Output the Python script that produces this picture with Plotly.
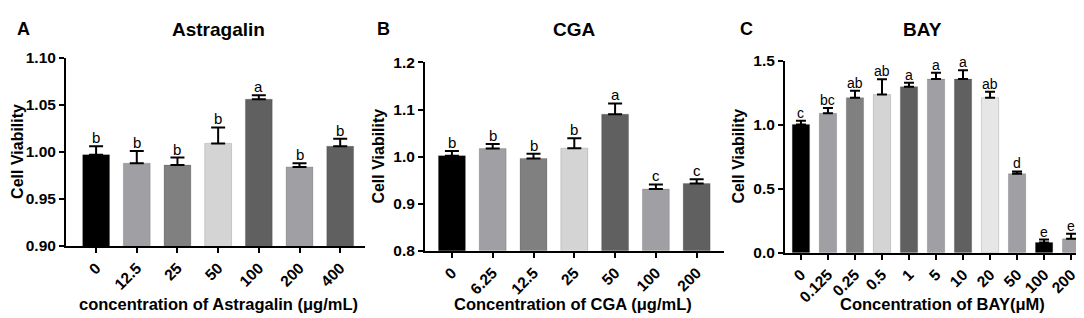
import plotly.graph_objects as go

W, H = 1084, 318

# ---- Data ----
a_cats = ["0", "12.5", "25", "50", "100", "200", "400"]
a_vals = [0.997, 0.988, 0.986, 1.009, 1.056, 0.984, 1.006]
a_errs = [0.009, 0.013, 0.008, 0.017, 0.004, 0.004, 0.008]
a_sig = ["b", "b", "b", "b", "a", "b", "b"]

b_cats = ["0", "6.25", "12.5", "25", "50", "100", "200"]
b_vals = [1.002, 1.017, 0.996, 1.018, 1.090, 0.931, 0.943]
b_errs = [0.010, 0.010, 0.010, 0.021, 0.023, 0.010, 0.009]
b_sig = ["b", "b", "b", "b", "a", "c", "c"]

c_cats = ["0", "0.125", "0.25", "0.5", "1", "5", "10", "20", "50", "100", "200"]
c_vals = [1.000, 1.089, 1.210, 1.234, 1.296, 1.355, 1.355, 1.210, 0.616, 0.080, 0.108]
c_errs = [0.030, 0.040, 0.054, 0.120, 0.030, 0.050, 0.070, 0.046, 0.018, 0.022, 0.040]
c_sig = ["c", "bc", "ab", "ab", "a", "a", "a", "ab", "d", "e", "e"]

a_colors = ["#000000", "#a0a0a4", "#808080", "#d4d4d4", "#606060", "#a0a0a4", "#606060"]
b_colors = ["#000000", "#a0a0a4", "#808080", "#d4d4d4", "#606060", "#a0a0a4", "#606060"]
c_colors = ["#000000", "#a0a0a4", "#808080", "#d4d4d4", "#606060", "#a0a0a4", "#606060",
            "#e6e6e6", "#a0a0a4", "#000000", "#a0a0a4"]

FONT = "Liberation Sans, Arial, sans-serif"

def px_x(x):
    return x / W

def px_y(y):
    return 1 - y / H

panels = [
    dict(cats=a_cats, vals=a_vals, errs=a_errs, sig=a_sig, colors=a_colors,
         x0=58, x1=357, ytop=43, ybot=242, yr=[0.90, 1.10], dtick=0.05, fmt=".2f",
         xr=[-0.74, 6.61], width=0.66, cap=7, sigsize=15,
         title="Astragalin", tx=210, letter="A", lx=15,
         xtitle="concentration of Astragalin (μg/mL)", xtx=210, ytx=10),
    dict(cats=b_cats, vals=b_vals, errs=b_errs, sig=b_sig, colors=b_colors,
         x0=417, x1=716, ytop=48, ybot=247, yr=[0.8, 1.2], dtick=0.1, fmt=".1f",
         xr=[-0.66, 6.67], width=0.66, cap=7, sigsize=15,
         title="CGA", tx=566, letter="B", lx=375,
         xtitle="Concentration of CGA (μg/mL)", xtx=565, ytx=371),
    dict(cats=c_cats, vals=c_vals, errs=c_errs, sig=c_sig, colors=c_colors,
         x0=777, x1=1082, ytop=46, ybot=249, yr=[0.0, 1.5], dtick=0.5, fmt=".1f",
         xr=[-0.59, 10.7], width=0.64, cap=5, sigsize=14,
         title="BAY", tx=914, letter="C", lx=738,
         xtitle="Concentration of BAY(μM)", xtx=934, ytx=731),
]

fig = go.Figure()
annotations = []
layout = {}
for i, p in enumerate(panels):
    n = "" if i == 0 else str(i + 1)
    xa, ya = "x" + n, "y" + n
    fig.add_trace(go.Bar(
        x=p["cats"], y=p["vals"], xaxis=xa, yaxis=ya,
        width=p["width"],
        marker=dict(color=p["colors"], line=dict(color="rgba(0,0,0,0.15)", width=1)),
        error_y=dict(type="data", array=p["errs"], arrayminus=[0] * len(p["errs"]),
                     symmetric=False, color="black", thickness=2, width=p["cap"]),
        showlegend=False, hoverinfo="skip",
    ))
    layout["xaxis" + n] = dict(
        domain=[px_x(p["x0"]), px_x(p["x1"])], anchor=ya, type="category",
        range=p["xr"], showline=True, linecolor="black", linewidth=2,
        ticks="outside", ticklen=5, tickwidth=2, tickcolor="black",
        tickangle=-45, showgrid=False, zeroline=False,
        tickfont=dict(family=FONT, size=15.5, color="black", weight="bold"),
    )
    layout["yaxis" + n] = dict(
        domain=[px_y(p["ybot"]), px_y(p["ytop"])], anchor=xa,
        range=p["yr"], dtick=p["dtick"], tick0=p["yr"][0], tickformat=p["fmt"],
        showline=True, linecolor="black", linewidth=2,
        ticks="outside", ticklen=5, tickwidth=2, tickcolor="black",
        showgrid=False, zeroline=False,
        tickfont=dict(family=FONT, size=15.5, color="black", weight="bold"),
    )
    for k, (v, e, s) in enumerate(zip(p["vals"], p["errs"], p["sig"])):
        annotations.append(dict(
            x=k, y=v + e, xref=xa, yref=ya, text=s, showarrow=False,
            yanchor="bottom", yshift=-2,
            font=dict(family=FONT, size=p["sigsize"], color="black"),
        ))
    annotations.append(dict(x=px_x(p["tx"]), y=px_y(13), xref="paper", yref="paper",
                            text="<b>" + p["title"] + "</b>", showarrow=False,
                            xanchor="center", yanchor="middle",
                            font=dict(family=FONT, size=19, color="black")))
    annotations.append(dict(x=px_x(p["lx"]), y=px_y(13), xref="paper", yref="paper",
                            text="<b>" + p["letter"] + "</b>", showarrow=False,
                            xanchor="center", yanchor="middle",
                            font=dict(family=FONT, size=18, color="black")))
    annotations.append(dict(x=px_x(p["xtx"]), y=px_y(303), xref="paper", yref="paper",
                            text="<b>" + p["xtitle"] + "</b>", showarrow=False,
                            xanchor="center", yanchor="middle",
                            font=dict(family=FONT, size=16.5, color="black")))
    annotations.append(dict(x=px_x(p["ytx"]), y=px_y((p["ytop"] + p["ybot"]) / 2),
                            xref="paper", yref="paper",
                            text="<b>Cell Viability</b>", showarrow=False, textangle=-90,
                            xanchor="center", yanchor="middle",
                            font=dict(family=FONT, size=16, color="black")))

fig.update_layout(
    width=W, height=H, margin=dict(l=0, r=0, t=0, b=0),
    paper_bgcolor="white", plot_bgcolor="white",
    annotations=annotations, **layout,
)

fig.write_html("out.html")
